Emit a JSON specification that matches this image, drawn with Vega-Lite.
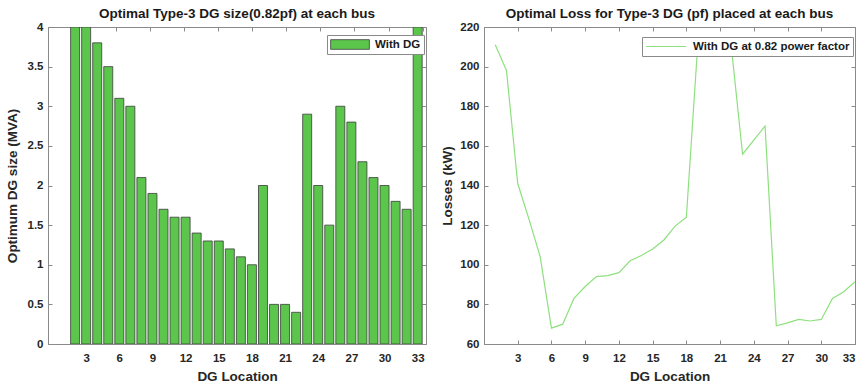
{
  "$schema": "https://vega.github.io/schema/vega-lite/v6.json",
  "padding": {"top": 6, "left": 4, "right": 4, "bottom": 2},
  "spacing": 13,
  "background": "white",
  "config": {
    "font": "Liberation Sans",
    "view": {"stroke": "#8a8a8a", "strokeWidth": 1},
    "title": {"font": "Liberation Sans", "fontSize": 13.5, "fontWeight": "bold", "color": "#1a1a1a", "offset": 1},
    "axis": {
      "grid": false,
      "labelFont": "Liberation Sans", "labelFontSize": 11.5, "labelFontWeight": "bold", "labelColor": "#262626",
      "titleFont": "Liberation Sans", "titleFontSize": 13.5, "titleFontWeight": "bold", "titleColor": "#262626",
      "domainColor": "#8a8a8a", "tickColor": "#8a8a8a", "tickSize": -4, "labelPadding": 9
    },
    "legend": {
      "labelFont": "Liberation Sans", "labelFontSize": 11.5, "labelFontWeight": "bold", "labelColor": "#1a1a1a",
      "fillColor": "white", "strokeColor": "#8a8a8a", "padding": 3, "title": null, "clipHeight": 13
    }
  },
  "datasets": {
    "sizes": [
      {"bus": 2, "size": 4, "series": "With DG"},
      {"bus": 3, "size": 4, "series": "With DG"},
      {"bus": 4, "size": 3.8, "series": "With DG"},
      {"bus": 5, "size": 3.5, "series": "With DG"},
      {"bus": 6, "size": 3.1, "series": "With DG"},
      {"bus": 7, "size": 3.0, "series": "With DG"},
      {"bus": 8, "size": 2.1, "series": "With DG"},
      {"bus": 9, "size": 1.9, "series": "With DG"},
      {"bus": 10, "size": 1.7, "series": "With DG"},
      {"bus": 11, "size": 1.6, "series": "With DG"},
      {"bus": 12, "size": 1.6, "series": "With DG"},
      {"bus": 13, "size": 1.4, "series": "With DG"},
      {"bus": 14, "size": 1.3, "series": "With DG"},
      {"bus": 15, "size": 1.3, "series": "With DG"},
      {"bus": 16, "size": 1.2, "series": "With DG"},
      {"bus": 17, "size": 1.1, "series": "With DG"},
      {"bus": 18, "size": 1.0, "series": "With DG"},
      {"bus": 19, "size": 2.0, "series": "With DG"},
      {"bus": 20, "size": 0.5, "series": "With DG"},
      {"bus": 21, "size": 0.5, "series": "With DG"},
      {"bus": 22, "size": 0.4, "series": "With DG"},
      {"bus": 23, "size": 2.9, "series": "With DG"},
      {"bus": 24, "size": 2.0, "series": "With DG"},
      {"bus": 25, "size": 1.5, "series": "With DG"},
      {"bus": 26, "size": 3.0, "series": "With DG"},
      {"bus": 27, "size": 2.8, "series": "With DG"},
      {"bus": 28, "size": 2.3, "series": "With DG"},
      {"bus": 29, "size": 2.1, "series": "With DG"},
      {"bus": 30, "size": 2.0, "series": "With DG"},
      {"bus": 31, "size": 1.8, "series": "With DG"},
      {"bus": 32, "size": 1.7, "series": "With DG"},
      {"bus": 33, "size": 4, "series": "With DG"}
    ],
    "losses": [
      {"bus": 1, "loss": 211, "series": "With DG at 0.82 power factor"},
      {"bus": 2, "loss": 198, "series": "With DG at 0.82 power factor"},
      {"bus": 3, "loss": 141, "series": "With DG at 0.82 power factor"},
      {"bus": 4, "loss": 123, "series": "With DG at 0.82 power factor"},
      {"bus": 5, "loss": 104, "series": "With DG at 0.82 power factor"},
      {"bus": 6, "loss": 68, "series": "With DG at 0.82 power factor"},
      {"bus": 7, "loss": 70, "series": "With DG at 0.82 power factor"},
      {"bus": 8, "loss": 83, "series": "With DG at 0.82 power factor"},
      {"bus": 9, "loss": 89, "series": "With DG at 0.82 power factor"},
      {"bus": 10, "loss": 94, "series": "With DG at 0.82 power factor"},
      {"bus": 11, "loss": 94.5, "series": "With DG at 0.82 power factor"},
      {"bus": 12, "loss": 96, "series": "With DG at 0.82 power factor"},
      {"bus": 13, "loss": 102, "series": "With DG at 0.82 power factor"},
      {"bus": 14, "loss": 104.7, "series": "With DG at 0.82 power factor"},
      {"bus": 15, "loss": 108, "series": "With DG at 0.82 power factor"},
      {"bus": 16, "loss": 112.5, "series": "With DG at 0.82 power factor"},
      {"bus": 17, "loss": 119.5, "series": "With DG at 0.82 power factor"},
      {"bus": 18, "loss": 124, "series": "With DG at 0.82 power factor"},
      {"bus": 19, "loss": 210, "series": "With DG at 0.82 power factor"},
      {"bus": 20, "loss": 213, "series": "With DG at 0.82 power factor"},
      {"bus": 21, "loss": 213, "series": "With DG at 0.82 power factor"},
      {"bus": 22, "loss": 210, "series": "With DG at 0.82 power factor"},
      {"bus": 23, "loss": 155.8, "series": "With DG at 0.82 power factor"},
      {"bus": 24, "loss": 162.9, "series": "With DG at 0.82 power factor"},
      {"bus": 25, "loss": 170, "series": "With DG at 0.82 power factor"},
      {"bus": 26, "loss": 69.2, "series": "With DG at 0.82 power factor"},
      {"bus": 27, "loss": 70.7, "series": "With DG at 0.82 power factor"},
      {"bus": 28, "loss": 72.4, "series": "With DG at 0.82 power factor"},
      {"bus": 29, "loss": 71.6, "series": "With DG at 0.82 power factor"},
      {"bus": 30, "loss": 72.4, "series": "With DG at 0.82 power factor"},
      {"bus": 31, "loss": 83, "series": "With DG at 0.82 power factor"},
      {"bus": 32, "loss": 86.4, "series": "With DG at 0.82 power factor"},
      {"bus": 33, "loss": 91.4, "series": "With DG at 0.82 power factor"}
    ]
  },
  "hconcat": [
    {
      "width": 378,
      "height": 317,
      "title": "Optimal Type-3 DG size(0.82pf) at each bus",
      "data": {"name": "sizes"},
      "resolve": {"scale": {"x": "independent", "y": "independent"}},
      "layer": [
        {
          "mark": {"type": "bar", "width": 9, "stroke": "#3c3c3c", "strokeWidth": 0.8, "clip": true},
          "encoding": {
            "x": {"field": "bus", "type": "quantitative", "scale": {"domain": [0, 33.3], "nice": false, "zero": false},
                  "axis": {"orient": "bottom", "values": [3, 6, 9, 12, 15, 18, 21, 24, 27, 30, 33], "title": "DG Location", "labelPadding": 12, "titlePadding": 6}},
            "y": {"field": "size", "type": "quantitative", "scale": {"domain": [0, 4], "nice": false},
                  "axis": {"orient": "left", "values": [0, 0.5, 1, 1.5, 2, 2.5, 3, 3.5, 4], "format": "~g", "title": "Optimum DG size (MVA)", "titlePadding": 8}},
            "color": {"field": "series", "type": "nominal", "scale": {"range": ["#5cc64c"]},
                      "legend": {"orient": "none", "legendX": 279, "legendY": 8, "symbolType": "M-1,-0.25H1V0.25H-1Z", "symbolSize": 1500,
                                 "symbolStrokeColor": "#3c3c3c", "symbolStrokeWidth": 0.8, "symbolFillColor": "#5cc64c", "labelOffset": 5}}
          }
        },
        {
          "mark": {"type": "point", "opacity": 0},
          "encoding": {
            "x": {"field": "bus", "type": "quantitative", "scale": {"domain": [0, 33.3], "nice": false, "zero": false},
                  "axis": {"orient": "top", "values": [3, 6, 9, 12, 15, 18, 21, 24, 27, 30, 33], "labels": false, "title": null, "domain": false, "minExtent": 0, "maxExtent": 0}},
            "y": {"field": "size", "type": "quantitative", "scale": {"domain": [0, 4], "nice": false},
                  "axis": {"orient": "right", "values": [0, 0.5, 1, 1.5, 2, 2.5, 3, 3.5, 4], "labels": false, "title": null, "domain": false, "minExtent": 0, "maxExtent": 0}}
          }
        }
      ]
    },
    {
      "width": 371,
      "height": 317,
      "title": "Optimal Loss for Type-3 DG (pf) placed at each bus",
      "data": {"name": "losses"},
      "resolve": {"scale": {"x": "independent", "y": "independent"}},
      "layer": [
        {
          "mark": {"type": "line", "strokeWidth": 1.2, "clip": true},
          "encoding": {
            "x": {"field": "bus", "type": "quantitative", "scale": {"domain": [0, 33], "nice": false, "zero": false},
                  "axis": {"orient": "bottom", "values": [3, 6, 9, 12, 15, 18, 21, 24, 27, 30, 33], "title": "DG Location", "labelPadding": 12, "titlePadding": 6}},
            "y": {"field": "loss", "type": "quantitative", "scale": {"domain": [60, 220], "nice": false, "zero": false},
                  "axis": {"orient": "left", "values": [60, 80, 100, 120, 140, 160, 180, 200, 220], "title": "Losses (kW)", "titlePadding": 5}},
            "color": {"field": "series", "type": "nominal", "scale": {"range": ["#8ee07e"]},
                      "legend": {"orient": "none", "legendX": 158, "legendY": 10, "symbolType": "stroke", "symbolSize": 1600, "symbolStrokeWidth": 1.2, "labelOffset": 6}}
          }
        },
        {
          "mark": {"type": "point", "opacity": 0},
          "encoding": {
            "x": {"field": "bus", "type": "quantitative", "scale": {"domain": [0, 33], "nice": false, "zero": false},
                  "axis": {"orient": "top", "values": [3, 6, 9, 12, 15, 18, 21, 24, 27, 30, 33], "labels": false, "title": null, "domain": false, "minExtent": 0, "maxExtent": 0}},
            "y": {"field": "loss", "type": "quantitative", "scale": {"domain": [60, 220], "nice": false, "zero": false},
                  "axis": {"orient": "right", "values": [60, 80, 100, 120, 140, 160, 180, 200, 220], "labels": false, "title": null, "domain": false, "minExtent": 0, "maxExtent": 0}}
          }
        }
      ]
    }
  ],
  "resolve": {"scale": {"color": "independent"}, "legend": {"color": "independent"}}
}
